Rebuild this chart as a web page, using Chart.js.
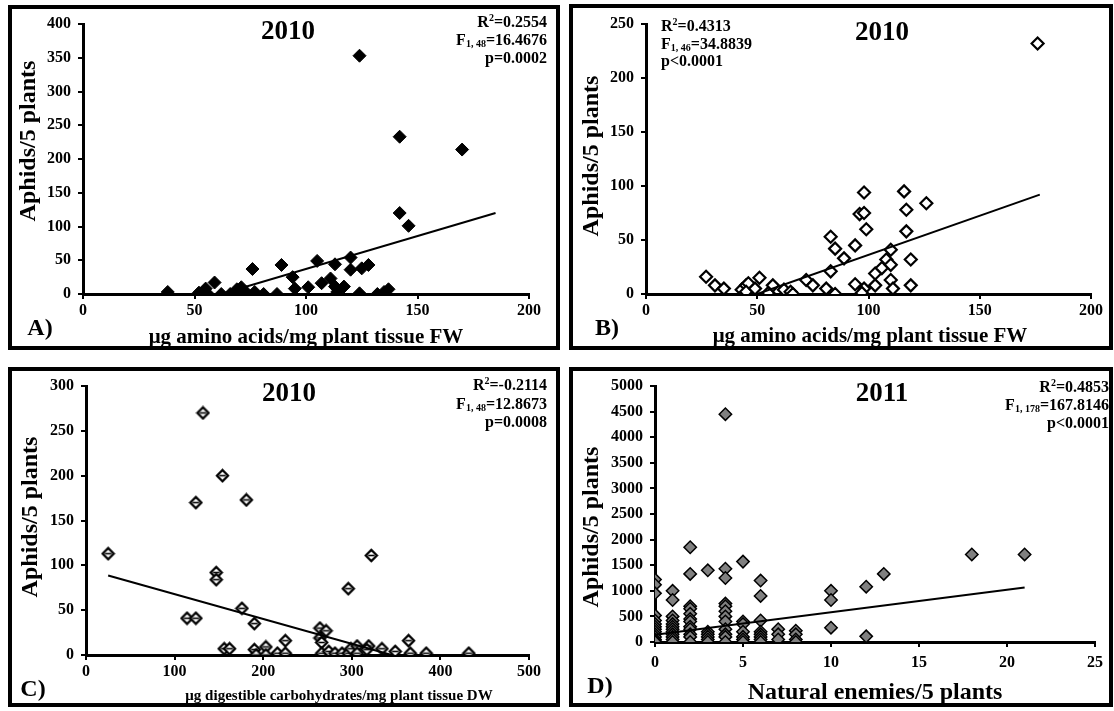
<!DOCTYPE html>
<html><head><meta charset="utf-8">
<script src="https://cdn.jsdelivr.net/npm/chart.js@4.4.1/dist/chart.umd.min.js"></script>
<style>
html,body{margin:0;padding:0;background:#fff;}
body{width:1114px;height:711px;position:relative;overflow:hidden;font-family:"Liberation Serif","Times New Roman",serif;font-weight:bold;color:#000;}
canvas{position:absolute;z-index:1;}
.frame{position:absolute;border:4px solid #000;box-sizing:border-box;z-index:3;pointer-events:none;}
.t{position:absolute;white-space:nowrap;transform:translate(-50%,-50%);z-index:4;line-height:1;}
.yt{transform:translate(-50%,-50%) rotate(-90deg);}
.stats{position:absolute;z-index:4;font-size:16px;white-space:nowrap;}
sub{font-size:10px;vertical-align:baseline;position:relative;top:2px;line-height:0;}
sup{font-size:10px;vertical-align:baseline;position:relative;top:-6px;line-height:0;}
</style></head>
<body>
<canvas id="cA"></canvas><canvas id="cB"></canvas><canvas id="cC"></canvas><canvas id="cD"></canvas>
<div class="frame" style="left:8px;top:5px;width:552px;height:345px"></div>
<div class="frame" style="left:569px;top:4px;width:544px;height:346px"></div>
<div class="frame" style="left:8px;top:367px;width:552px;height:340px"></div>
<div class="frame" style="left:569px;top:367px;width:544px;height:340px"></div>

<div class="t" style="left:288px;top:30px;font-size:27px">2010</div>
<div class="t" style="left:882px;top:31px;font-size:27px">2010</div>
<div class="t" style="left:289px;top:392px;font-size:27px">2010</div>
<div class="t" style="left:882px;top:392px;font-size:27px">2011</div>

<div class="t" style="left:40px;top:327px;font-size:24px">A)</div>
<div class="t" style="left:607px;top:327px;font-size:24px">B)</div>
<div class="t" style="left:33px;top:688px;font-size:24px">C)</div>
<div class="t" style="left:600px;top:685px;font-size:24px">D)</div>

<div class="t" style="left:306px;top:336px;font-size:21px">μg amino acids/mg plant tissue FW</div>
<div class="t" style="left:870px;top:335px;font-size:21px">μg amino acids/mg plant tissue FW</div>
<div class="t" style="left:339px;top:695px;font-size:15px">μg digestible carbohydrates/mg plant tissue DW</div>
<div class="t" style="left:875px;top:691px;font-size:24px">Natural enemies/5 plants</div>

<div class="t yt" style="left:27px;top:141px;font-size:24px">Aphids/5 plants</div>
<div class="t yt" style="left:590px;top:156px;font-size:24px">Aphids/5 plants</div>
<div class="t yt" style="left:29px;top:517px;font-size:24px">Aphids/5 plants</div>
<div class="t yt" style="left:590px;top:527px;font-size:24px">Aphids/5 plants</div>

<div class="stats" style="right:567px;top:13px;line-height:18px;text-align:right">R<sup>2</sup>=0.2554<br>F<sub>1, 48</sub>=16.4676<br>p=0.0002</div>
<div class="stats" style="left:661px;top:17px;line-height:17.5px;text-align:left">R<sup>2</sup>=0.4313<br>F<sub>1, 46</sub>=34.8839<br>p&lt;0.0001</div>
<div class="stats" style="right:567px;top:376px;line-height:18.5px;text-align:right">R<sup>2</sup>=-0.2114<br>F<sub>1, 48</sub>=12.8673<br>p=0.0008</div>
<div class="stats" style="right:5px;top:378px;line-height:18px;text-align:right">R<sup>2</sup>=0.4853<br>F<sub>1, 178</sub>=167.8146<br>p&lt;0.0001</div>

<script>
// ---- Panel A: amino acids (2010) ----
const aX = [38,52,55,56,59,62,66,69,71,73,76,77,81,87,89,94,95,101,105,107,111,113,113,114,117,120,120,124,125,128,132,135,137,142,142,146,124,170];
const aY = [3,2,8,0,17,0,0,7,10,3,37,3,0,0,43,25,8,10,49,16,23,44,11,3,11,54,36,1,38,43,0,3,7,233,120,101,353,214];
const aLineX = [62,185];
const aLineY = [0,120];
// ---- Panel B: amino acids (2010) ----
const bX = [27,31,35,43,45,46,45,51,49,55,57,62,65,66,72,75,81,83,83,85,85,89,94,94,96,98,98,99,98,97,103,103,106,108,110,110,110,111,116,117,117,119,119,126,176];
const bY = [16,8,5,4,8,10,2,15,5,1,8,4,2,0,13,8,5,53,21,42,0,33,45,9,74,75,94,60,5,1,19,8,24,32,41,27,13,5,95,78,58,32,8,84,232];
const bLineX = [50,177];
const bLineY = [0,92];
// ---- Panel C: digestible carbohydrates (2010) ----
const cX = [25,132,154,124,181,147,147,114,124,176,190,156,162,190,192,203,203,216,322,296,264,271,264,266,225,225,266,274,281,289,296,299,306,306,319,317,334,349,364,366,384,432];
const cY = [113,270,200,170,173,92,84,41,41,52,35,7,7,6,0,9,0,2,111,74,30,27,19,14,16,2,2,4,2,2,2,7,10,2,10,6,7,4,16,2,2,2];
const cLineX = [25,345];
const cLineY = [88.7,0];
// ---- Panel D: natural enemies (2011) ----
const dX = [0,0,0,0,0,0,0,0,0,0,0,0,0,0,
            1,1,1,1,1,1,1,1,1,1,1,1,
            2,2,2,2,2,2,2,2,2,2,2,2,
            3,3,3,3,3,3,
            4,4,4,4,4,4,4,4,4,4,4,4,
            5,5,5,5,5,5,5,
            6,6,6,6,6,6,6,6,
            7,7,7,
            8,8,8,8,
            10,10,10,
            12,12,
            13,18,21];
const dY = [1220,1120,950,520,420,350,300,250,200,150,100,50,20,0,
            1000,820,500,420,350,300,250,200,150,100,50,0,
            1850,1330,700,650,550,450,400,300,250,150,100,0,
            1400,200,150,100,50,0,
            4450,1430,1250,750,700,600,500,400,250,150,100,0,
            1570,400,350,200,100,50,0,
            1200,900,420,200,150,100,50,0,
            250,150,50,
            220,150,50,0,
            1000,820,280,
            1080,110,
            1330,1710,1710];
const dLineX = [0,21];
const dLineY = [140,1064];

// tick settings
const aTicks = {xMax:200, xStep:50, yMax:400, yStep:50};
const bTicks = {xMax:200, xStep:50, yMax:250, yStep:50};
const cTicks = {xMax:500, xStep:100, yMax:300, yStep:50};
const dTicks = {xMax:25, xStep:5, yMax:5000, yStep:500};

const FONT = '"Liberation Serif","Times New Roman",serif';
const pts = (xs, ys) => xs.map((x, i) => ({x, y: ys[i]}));

function cMarker(){
  const s = 15, h = 7.5, r = 5.6;
  const cv = document.createElement('canvas'); cv.width = s; cv.height = s;
  const g = cv.getContext('2d');
  g.beginPath(); g.moveTo(h-r,h); g.lineTo(h,h-r); g.lineTo(h+r,h); g.lineTo(h,h+r); g.closePath();
  g.fillStyle = '#fff'; g.fill(); g.lineWidth = 2.2; g.strokeStyle = '#000'; g.stroke();
  g.beginPath(); g.moveTo(h-3.2,h); g.lineTo(h+3.2,h); g.lineWidth = 1.6; g.stroke();
  return cv;
}

function axis(max, step, pad, fit){
  return {
    type:'linear', min:0, max:max,
    ticks:{stepSize:step, color:'#000', padding:pad, font:{family:FONT, weight:'bold', size:16},
           callback: v => String(v)},
    grid:{display:true, drawOnChartArea:false, drawTicks:true, tickLength:5, color:'#000', lineWidth:2},
    border:{display:true, color:'#000', width:3},
    afterFit: fit
  };
}

function build(id, rect, area, t, scatter, line, xPad, style){
  const c = document.getElementById(id);
  c.width = rect[2]; c.height = rect[3];
  c.style.left = rect[0] + 'px'; c.style.top = rect[1] + 'px';
  const yW = area[0] - rect[0];
  const xH = rect[1] + rect[3] - area[3];
  new Chart(c, {
    type:'scatter',
    data:{datasets:[
      Object.assign({data:scatter, order:1}, style),
      {data:line, showLine:true, borderColor:'#000', borderWidth:2, pointRadius:0, pointHoverRadius:0, order:0}
    ]},
    options:{
      responsive:false, animation:false, devicePixelRatio:1, events:[],
      layout:{padding:{left:0, top:area[2]-rect[1], right:rect[0]+rect[2]-area[1], bottom:0}},
      plugins:{legend:{display:false}, tooltip:{enabled:false}},
      scales:{
        x: axis(t.xMax, t.xStep, xPad, s => { s.height = xH; }),
        y: axis(t.yMax, t.yStep, 7, s => { s.width = yW; })
      }
    }
  });
}

build('cA', [8,5,552,345], [83,529,24,294], aTicks, pts(aX,aY), pts(aLineX,aLineY), 2,
  {pointStyle:'rectRot', pointRadius:6.5, backgroundColor:'#000', borderColor:'#000', borderWidth:1});
build('cB', [569,4,544,346], [646,1091,24,294], bTicks, pts(bX,bY), pts(bLineX,bLineY), 2,
  {pointStyle:'rectRot', pointRadius:6, backgroundColor:'#fff', borderColor:'#000', borderWidth:2.2});
build('cC', [8,367,552,340], [86,529,386,655], cTicks, pts(cX,cY), pts(cLineX,cLineY), 2,
  {pointStyle:cMarker(), pointRadius:6, backgroundColor:'#fff', borderColor:'#000', borderWidth:2});
build('cD', [569,367,544,340], [655,1095,386,642], dTicks, pts(dX,dY), pts(dLineX,dLineY), 6,
  {pointStyle:'rectRot', pointRadius:6.2, backgroundColor:'#808080', borderColor:'#000', borderWidth:1.5});
</script>
</body></html>
